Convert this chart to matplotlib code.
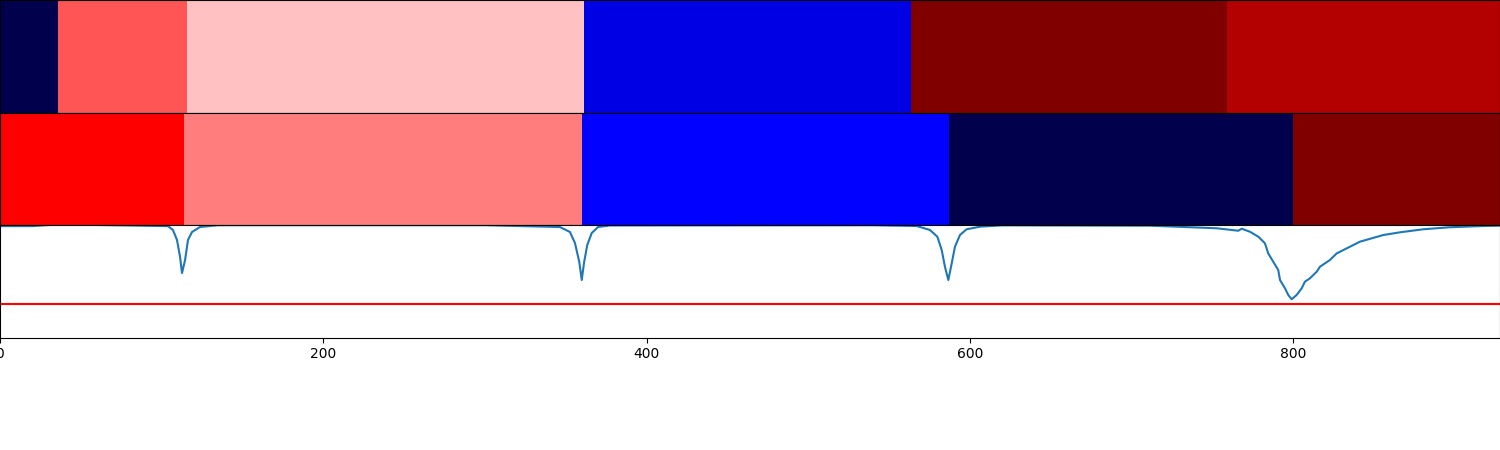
import numpy as np
import matplotlib
matplotlib.use('Agg')
import matplotlib.pyplot as plt

# segment edges (frame index) and colour values for the two label rows
top_edges = [0, 35.9, 115.7, 361.4, 563.7, 759.3, 928]
top_vals = [0.0, 0.667, 0.562, 0.214, 1.0, 0.897]

mid_edges = [0, 113.9, 360.1, 587.2, 800.1, 928]
mid_vals = [0.75, 0.625, 0.25, 0.0, 1.0]

# similarity curve
curve_x = [0, 20, 31, 60, 103.9, 107.0, 109.5, 111.4, 112.6, 114.5, 116.3, 118.8, 123.7, 135,
           300, 346.4, 352.6, 355.7, 358.4, 359.9, 361.3, 363.3, 366.1, 370.0, 377.4,
           540, 567.1, 575.3, 579.9, 582.6, 584.6, 586.7, 588.8, 590.8, 593.9, 598.0, 606.3, 620,
           711.4, 752.7, 766.1, 768.2, 773.3, 778.5, 782.6, 784.6, 787.7, 790.8, 791.9, 795.0,
           797.0, 799.1, 802.2, 805.3, 807.3, 810.4, 814.6, 816.6, 822.8, 827.0, 835.2, 841.4,
           855.8, 866.1, 880.5, 897.0, 917.6, 928]
curve_y = [0.99, 0.99, 1.0, 1.0, 0.99, 0.956, 0.867, 0.716, 0.573, 0.689, 0.867, 0.938, 0.982, 0.998,
           0.998, 0.982, 0.938, 0.84, 0.671, 0.511, 0.662, 0.822, 0.929, 0.982, 0.996,
           0.998, 0.991, 0.956, 0.896, 0.778, 0.629, 0.511, 0.66, 0.807, 0.911, 0.962, 0.985, 0.997,
           0.994, 0.971, 0.949, 0.967, 0.94, 0.896, 0.837, 0.748, 0.674, 0.6, 0.511, 0.437,
           0.378, 0.34, 0.378, 0.437, 0.496, 0.526, 0.585, 0.629, 0.689, 0.748, 0.807, 0.852,
           0.911, 0.935, 0.962, 0.98, 0.991, 0.994]
threshold = 0.3

fig, axes = plt.subplots(3, 1, figsize=(15, 4.5), dpi=100, sharex=True)
plt.subplots_adjust(left=0, right=1, top=1, bottom=0.25, hspace=0)

for ax, edges, vals in [(axes[0], top_edges, top_vals), (axes[1], mid_edges, mid_vals)]:
    ax.pcolormesh(np.array(edges), [0, 1], np.array([vals]), cmap='seismic', vmin=0, vmax=1)
    ax.set_yticks([])
    ax.tick_params(axis='x', bottom=False, labelbottom=False)

ax = axes[2]
ax.plot(curve_x, curve_y)
ax.axhline(threshold, color='r')
ax.set_ylim(0, 1.0)
ax.set_xlim(0, 928)

fig.savefig('out.png')
